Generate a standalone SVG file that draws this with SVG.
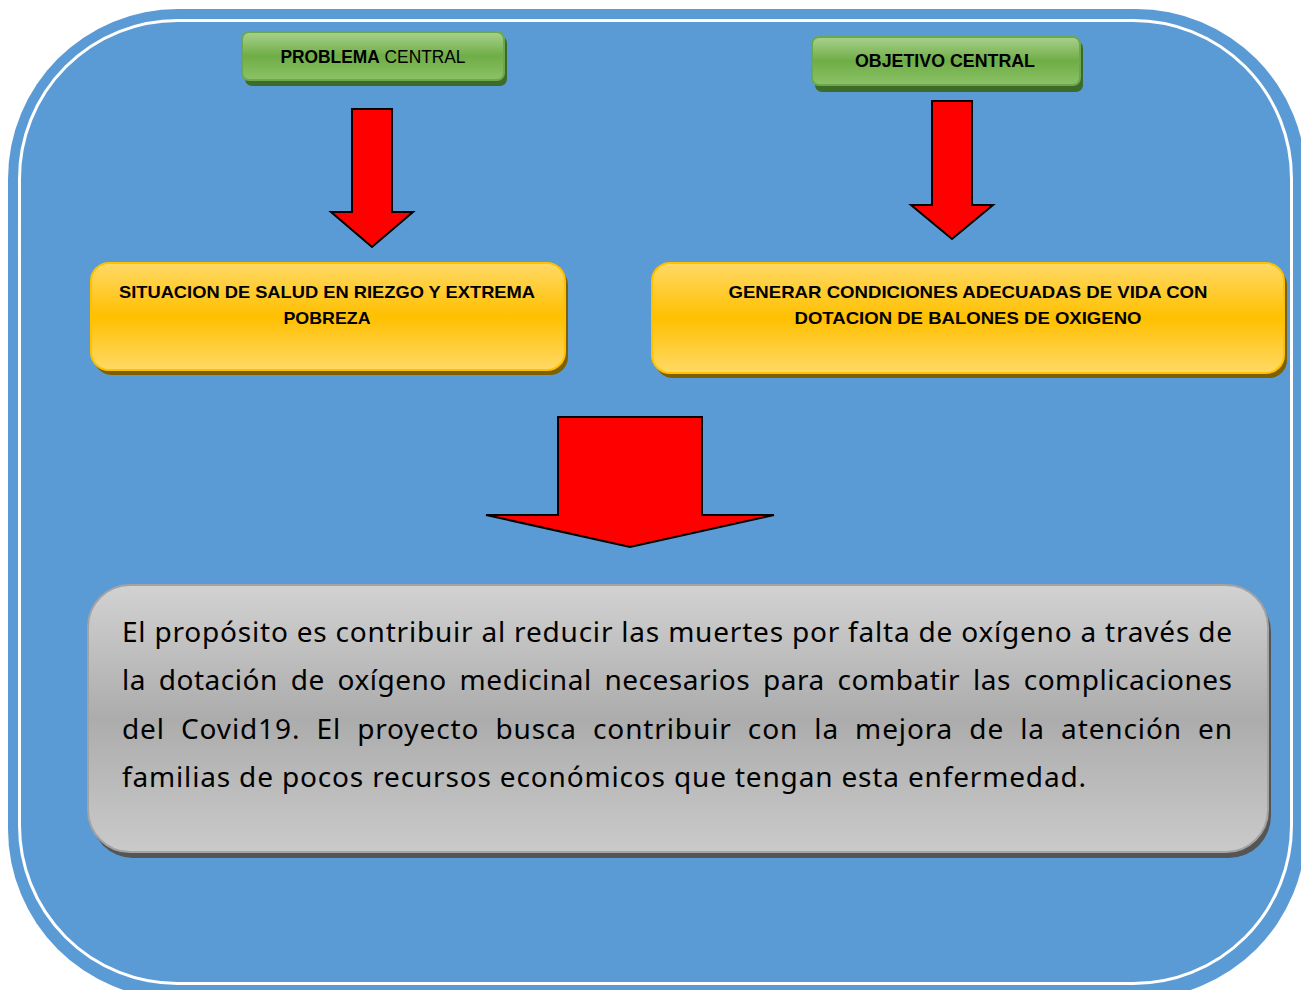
<svg xmlns="http://www.w3.org/2000/svg" width="1301" height="990" viewBox="0 0 1301 990">
<style>
.title{font-family:"Liberation Sans",Arial,sans-serif;font-size:17.5px;fill:#000;text-anchor:middle}
.b{font-weight:bold}
.box{font-family:"Liberation Sans",Arial,sans-serif;font-size:17px;font-weight:bold;fill:#000;text-anchor:middle}
.body{font-family:"Noto Sans","Open Sans",sans-serif;font-size:28px;fill:#000}
.arrow{fill:#ff0000;stroke:#000;stroke-width:2;stroke-linejoin:miter}
</style>
<defs>
<linearGradient id="gGreen" x1="0" y1="0" x2="0" y2="1">
<stop offset="0" stop-color="#a9d18e"/><stop offset="0.5" stop-color="#6fad46"/><stop offset="1" stop-color="#8cc267"/>
</linearGradient>
<linearGradient id="gYellow" x1="0" y1="0" x2="0" y2="1">
<stop offset="0" stop-color="#ffd966"/><stop offset="0.5" stop-color="#ffc000"/><stop offset="1" stop-color="#ffd966"/>
</linearGradient>
<linearGradient id="gGray" x1="0" y1="0" x2="0" y2="1">
<stop offset="0" stop-color="#d2d2d2"/><stop offset="0.5" stop-color="#acacac"/><stop offset="1" stop-color="#cacaca"/>
</linearGradient>
</defs>

<g id="background">
<rect x="8" y="9" width="1298" height="990" rx="170" fill="#5b9bd5"/>
<rect x="19.5" y="20.5" width="1272" height="963" rx="158" fill="none" stroke="#fff" stroke-width="3"/>
</g>

<g id="problema-central">
<rect x="245" y="36" width="262" height="50" rx="7" fill="#3d6b28"/>
<rect x="242" y="32" width="262" height="48" rx="7" fill="url(#gGreen)" stroke="#6aa84f" stroke-width="2"/>
<text class="title" x="373" y="63" textLength="185" lengthAdjust="spacingAndGlyphs"><tspan class="b">PROBLEMA</tspan> CENTRAL</text>
</g>

<g id="objetivo-central">
<rect x="815" y="41" width="268" height="51" rx="7" fill="#3d6b28"/>
<rect x="812" y="37" width="268" height="48" rx="7" fill="url(#gGreen)" stroke="#6aa84f" stroke-width="2"/>
<text class="title b" x="945" y="67" textLength="180" lengthAdjust="spacingAndGlyphs">OBJETIVO CENTRAL</text>
</g>

<g id="situacion">
<rect x="94" y="267" width="474" height="108" rx="18" fill="#7f6000"/>
<rect x="91" y="263" width="474" height="107" rx="18" fill="url(#gYellow)" stroke="#ffc000" stroke-width="2"/>
<text class="box" x="327" y="298" textLength="416" lengthAdjust="spacingAndGlyphs">SITUACION DE SALUD EN RIEZGO Y EXTREMA</text>
<text class="box" x="327" y="324" textLength="87" lengthAdjust="spacingAndGlyphs">POBREZA</text>
</g>

<g id="generar">
<rect x="655" y="267" width="632" height="111" rx="18" fill="#7f6000"/>
<rect x="652" y="263" width="632" height="110" rx="18" fill="url(#gYellow)" stroke="#ffc000" stroke-width="2"/>
<text class="box" x="968" y="298" textLength="479" lengthAdjust="spacingAndGlyphs">GENERAR CONDICIONES ADECUADAS DE VIDA CON</text>
<text class="box" x="968" y="324" textLength="347" lengthAdjust="spacingAndGlyphs">DOTACION DE BALONES DE OXIGENO</text>
</g>

<g id="proposito">
<rect x="91" y="590" width="1180" height="268" rx="42" fill="#555555"/>
<rect x="88" y="585" width="1180" height="267" rx="42" fill="url(#gGray)" stroke="#a3a3a3" stroke-width="2"/>
<text class="body" x="122" y="642" textLength="1110" lengthAdjust="spacing">El propósito es contribuir al reducir las muertes por falta de oxígeno a través de</text>
<text class="body" x="122" y="690" word-spacing="5" textLength="1110" lengthAdjust="spacing">la dotación de oxígeno medicinal necesarios para combatir las complicaciones</text>
<text class="body" x="122" y="739" word-spacing="8" textLength="1110" lengthAdjust="spacing">del Covid19. El proyecto busca contribuir con la mejora de la atención en</text>
<text class="body" x="122" y="787" textLength="964" lengthAdjust="spacing">familias de pocos recursos económicos que tengan esta enfermedad.</text>
</g>

<g id="connectors">
<polygon class="arrow" points="352,109 392,109 392,212 413,212 372,247 331,212 352,212"/>
<polygon class="arrow" points="932,101 972,101 972,205 993,205 952,239 911,205 932,205"/>
<polygon class="arrow" points="558,417 702,417 702,515 774,515 630,547 486,515 558,515"/>
</g>
</svg>
